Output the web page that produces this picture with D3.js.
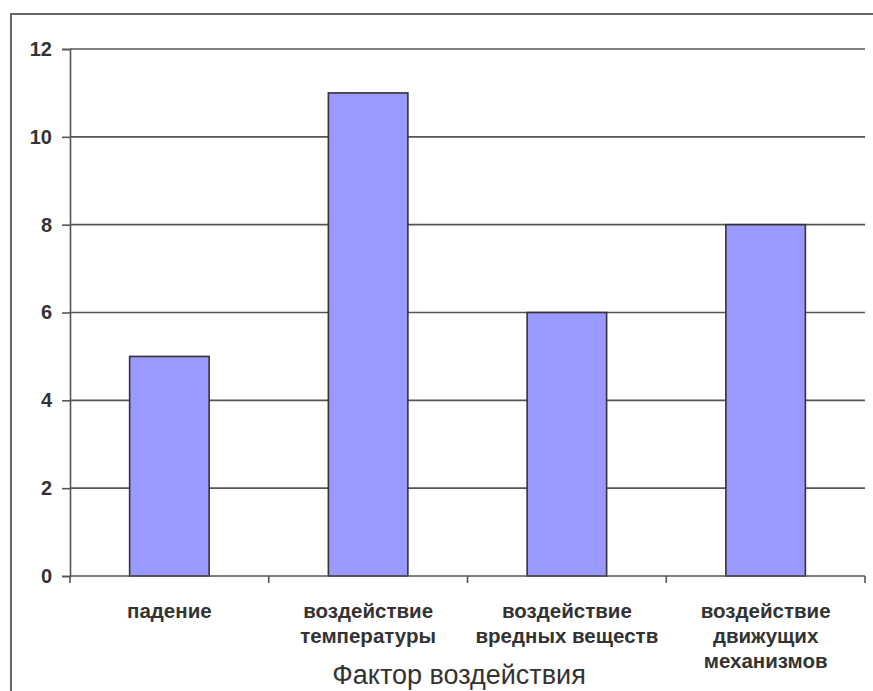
<!DOCTYPE html>
<html>
<head>
<meta charset="utf-8">
<script src="https://cdn.jsdelivr.net/npm/d3@7/dist/d3.min.js"></script>
<style>
  html, body { margin: 0; padding: 0; background: #fff; }
  svg { display: block; }
  text { font-family: "Liberation Sans", Arial, sans-serif; fill: #333; }
</style>
</head>
<body>
<svg id="chart" width="873" height="691"></svg>
<script>
// Number of cases by factor of exposure
const categories = [
  ["падение"],
  ["воздействие", "температуры"],
  ["воздействие", "вредных веществ"],
  ["воздействие", "движущих", "механизмов"]
];
const values = [5, 11, 6, 8];
const yTicks = [0, 2, 4, 6, 8, 10, 12];
const xTitle = "Фактор воздействия";

const svg = d3.select("#chart");
const W = 873, H = 691;
const plot = { left: 70, right: 865, top: 49, bottom: 576 };

// outer chart frame (top and left edges visible)
svg.append("path")
  .attr("d", `M11,${H + 5} L11,14 L${W + 5},14`)
  .attr("fill", "none")
  .attr("stroke", "#666")
  .attr("stroke-width", 2);

const keys = categories.map((c, i) => i);
const x = d3.scaleBand()
  .domain(keys)
  .range([plot.left, plot.right])
  .paddingInner(0.6)
  .paddingOuter(0.3);

const y = d3.scaleLinear()
  .domain([0, 12])
  .range([plot.bottom, plot.top]);

// horizontal gridlines
svg.append("g")
  .selectAll("line")
  .data(yTicks.filter(d => d > 0))
  .join("line")
  .attr("x1", plot.left)
  .attr("x2", plot.right)
  .attr("y1", d => y(d))
  .attr("y2", d => y(d))
  .attr("stroke", "#555")
  .attr("stroke-width", 1.6);

// bars
svg.append("g")
  .selectAll("rect")
  .data(values)
  .join("rect")
  .attr("x", (d, i) => x(i))
  .attr("y", d => y(d))
  .attr("width", x.bandwidth())
  .attr("height", d => y(0) - y(d))
  .attr("fill", "#9999ff")
  .attr("stroke", "#333")
  .attr("stroke-width", 1.6);

// y axis
const yAxis = svg.append("g")
  .attr("transform", `translate(${plot.left},0)`)
  .call(d3.axisLeft(y).tickValues(yTicks).tickSize(8).tickPadding(10).tickFormat(d3.format("d")));
yAxis.select(".domain").attr("stroke", "#555").attr("stroke-width", 1.6);
yAxis.selectAll(".tick line").attr("stroke", "#555").attr("stroke-width", 1.6);
yAxis.selectAll(".tick text")
  .attr("font-size", 20)
  .attr("font-weight", "bold")
  .attr("font-family", "'Liberation Sans', Arial, sans-serif")
  .attr("fill", "#333");

// x axis line with tick marks between categories
const bounds = keys.map(i => x(i) - x.step() * x.paddingInner() / 2);
bounds.push(plot.right);
const xAxisG = svg.append("g");
xAxisG.append("line")
  .attr("x1", plot.left).attr("x2", plot.right)
  .attr("y1", y(0)).attr("y2", y(0))
  .attr("stroke", "#555").attr("stroke-width", 1.6);
xAxisG.selectAll("line.tk")
  .data(bounds)
  .join("line")
  .attr("class", "tk")
  .attr("x1", d => d).attr("x2", d => d)
  .attr("y1", y(0)).attr("y2", y(0) + 7)
  .attr("stroke", "#555").attr("stroke-width", 1.6);

// category labels
const lab = svg.append("g")
  .selectAll("text")
  .data(categories)
  .join("text")
  .attr("x", (d, i) => x(i) + x.bandwidth() / 2)
  .attr("y", 618)
  .attr("text-anchor", "middle")
  .attr("font-size", 20.5)
  .attr("font-weight", "bold")
  .attr("fill", "#333");
lab.selectAll("tspan")
  .data(d => d)
  .join("tspan")
  .attr("x", function () { return d3.select(this.parentNode).attr("x"); })
  .attr("dy", (d, i) => i === 0 ? 0 : 25)
  .text(d => d);

// axis title
svg.append("text")
  .attr("x", 459)
  .attr("y", 684)
  .attr("text-anchor", "middle")
  .attr("font-size", 27)
  .attr("fill", "#222")
  .text(xTitle);
</script>
</body>
</html>
